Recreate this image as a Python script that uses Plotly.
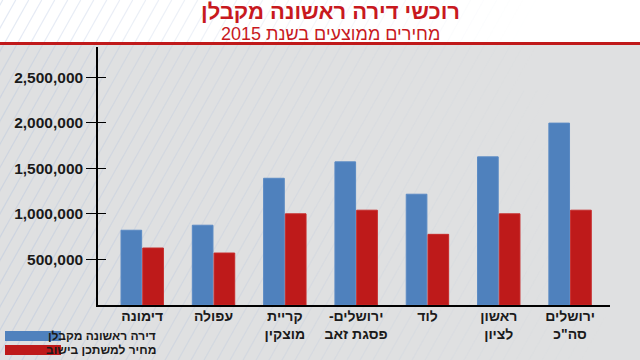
import plotly.graph_objects as go

categories = ["דימונה", "עפולה", "קריית<br>מוצקין", "ירושלים-\u200f<br>פסגת זאב", "לוד", "ראשון<br>לציון", "ירושלים<br>סה\"כ"]
first_home = [820000, 875000, 1390000, 1570000, 1215000, 1625000, 1995000]
avg_price = [625000, 570000, 1000000, 1040000, 775000, 1000000, 1040000]
series_names = ["דירה ראשונה מקבלן", "מחיר למשתכן בישוב"]
y_ticks = [500000, 1000000, 1500000, 2000000, 2500000]
title = "רוכשי דירה ראשונה מקבלן"
subtitle = "מחירים ממוצעים בשנת 2015"

BLUE = "#4f81bd"
RED = "#be1a1a"
BG = "#dfe0e1"
FONT = "Arial, Liberation Sans, sans-serif"

W, H = 640, 360
L, R, T, B = 98, 30, 47, 55
PW, PH = W - L - R, H - T - B


def px(x):
    return (x - L) / PW


def py(y):
    return (H - B - y) / PH


fig = go.Figure()
fig.add_trace(go.Bar(x=categories, y=first_home, name=series_names[0],
                     marker=dict(color=BLUE, line=dict(color="#5a8ac4", width=1)),
                     showlegend=False))
fig.add_trace(go.Bar(x=categories, y=avg_price, name=series_names[1],
                     marker=dict(color=RED, line=dict(color="#c62a2a", width=1)),
                     showlegend=False))
# invisible trace for the inner tick overlay axis
fig.add_trace(go.Scatter(x=[categories[0]], y=[None], yaxis="y2", showlegend=False,
                         hoverinfo="skip", mode="markers"))

shapes = []
# white header band
shapes.append(dict(type="rect", xref="paper", yref="paper", x0=px(0), x1=px(W),
                   y0=py(0), y1=py(43), fillcolor="white", line=dict(width=0), layer="below"))
# diagonal stripes fading to the right
slope = 0.56
spacing = 13
nseg = 8
x_start = -200
while x_start < 640:
    xb, yb = x_start, 362
    xt, yt = x_start + slope * 362, 0
    for k in range(nseg):
        t0, t1 = k / nseg, (k + 1) / nseg
        sx0 = xb + (xt - xb) * t0
        sy0 = yb + (yt - yb) * t0
        sx1 = xb + (xt - xb) * t1
        sy1 = yb + (yt - yb) * t1
        mid = (sx0 + sx1) / 2 + (360 - (sy0 + sy1) / 2) * 0.25
        op = max(0.0, 1 - mid / 620)
        if op <= 0.02:
            continue
        shapes.append(dict(type="line", xref="paper", yref="paper",
                           x0=px(sx0), y0=py(sy0), x1=px(sx1), y1=py(sy1),
                           line=dict(color="rgba(175,192,222,%.3f)" % (0.4 * op), width=1.2),
                           layer="below"))
    x_start += spacing
# red rule under the header
shapes.append(dict(type="rect", xref="paper", yref="paper", x0=px(0), x1=px(W),
                   y0=py(42), y1=py(45), fillcolor="#c0191a", line=dict(width=0), layer="below"))
# legend swatches
shapes.append(dict(type="rect", xref="paper", yref="paper", x0=px(5), x1=px(61),
                   y0=py(331), y1=py(341), fillcolor=BLUE, line=dict(width=0)))
shapes.append(dict(type="rect", xref="paper", yref="paper", x0=px(5), x1=px(61),
                   y0=py(345), y1=py(355), fillcolor=RED, line=dict(width=0)))

annotations = [
    dict(text=title, xref="paper", yref="paper", x=px(330), y=py(12), xanchor="center",
         yanchor="middle", showarrow=False,
         font=dict(family=FONT, size=22, color="#c8191e", weight="bold")),
    dict(text=subtitle, xref="paper", yref="paper", x=px(330), y=py(34), xanchor="center",
         yanchor="middle", showarrow=False,
         font=dict(family=FONT, size=18, color="#c8191e")),
    dict(text=series_names[0], xref="paper", yref="paper", x=px(158), y=py(336),
         xanchor="right", yanchor="middle", showarrow=False,
         font=dict(family=FONT, size=12, color="#1a1a1a", weight="bold")),
    dict(text=series_names[1], xref="paper", yref="paper", x=px(158), y=py(350),
         xanchor="right", yanchor="middle", showarrow=False,
         font=dict(family=FONT, size=12, color="#1a1a1a", weight="bold")),
]

yr = [0, 2830000]
fig.update_layout(
    width=W, height=H,
    margin=dict(l=L, r=R, t=T, b=B),
    paper_bgcolor=BG, plot_bgcolor="rgba(0,0,0,0)",
    barmode="group", bargap=0.39, bargroupgap=0.05,
    shapes=shapes, annotations=annotations,
    font=dict(family=FONT),
    xaxis=dict(range=[-0.62, 6.56], showline=True, linecolor="#000", linewidth=1.5,
               ticks="", showgrid=False, zeroline=False, ticklabelstandoff=-3,
               tickfont=dict(family=FONT, size=14, color="#1a1a1a", weight="bold")),
    yaxis=dict(range=yr, tickvals=y_ticks, tickformat=",d", showline=True,
               linecolor="#000", linewidth=1.5, ticks="outside", ticklen=10,
               tickcolor="#000", tickwidth=1.2, showgrid=False, zeroline=False,
               tickfont=dict(family=FONT, size=15.5, color="#1a1a1a", weight="bold")),
    yaxis2=dict(range=yr, tickvals=y_ticks, overlaying="y", side="left", anchor="x",
                showticklabels=False, showline=False, ticks="inside", ticklen=8,
                tickcolor="#000", tickwidth=1.2, showgrid=False, zeroline=False),
)

fig.write_html("out.html", config={"displayModeBar": False},
               post_script="document.body.style.margin='0';document.body.style.padding='0';document.body.style.overflow='hidden';")
